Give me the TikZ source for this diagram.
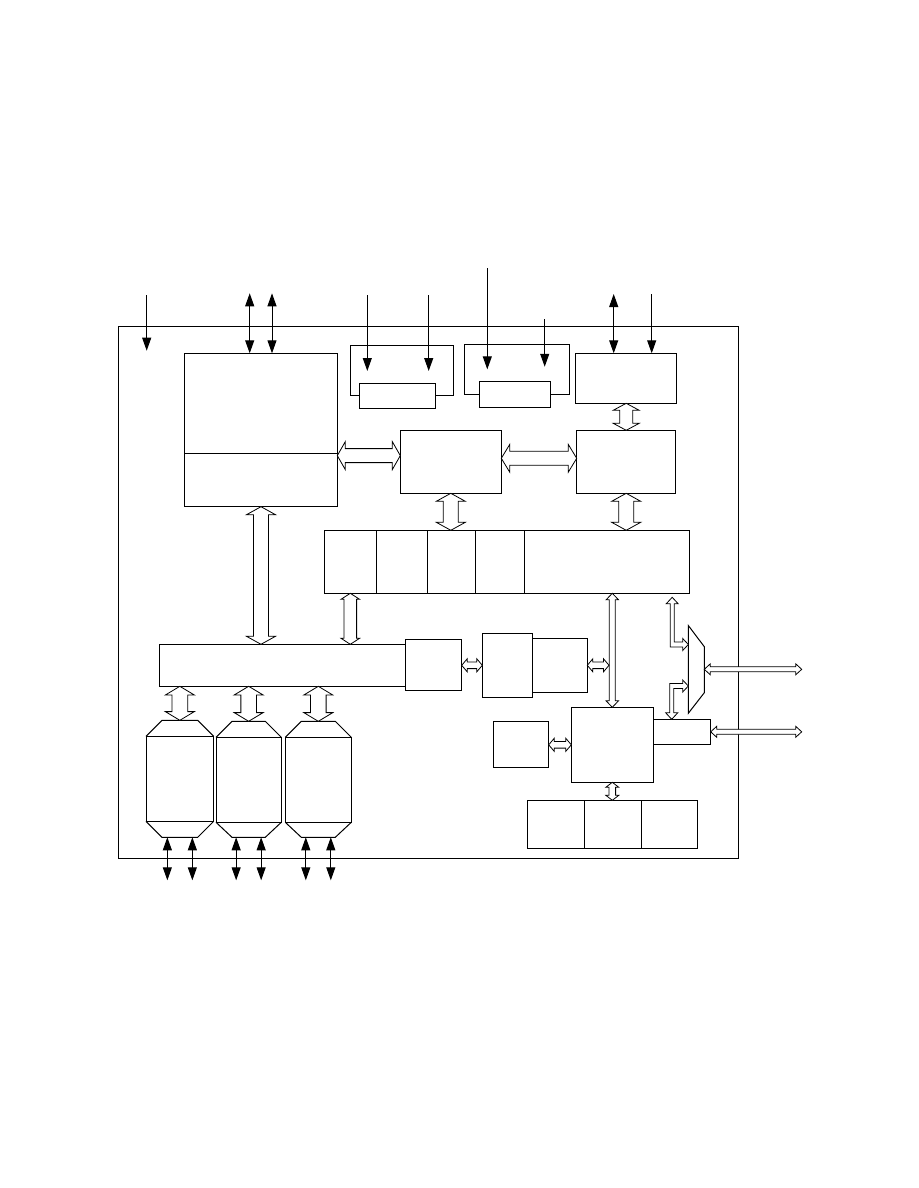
\documentclass[tikz,border=0pt]{standalone}
\usetikzlibrary{positioning,calc,arrows.meta}

\tikzset{
  box/.style={draw, rectangle, line width=1pt, inner sep=0pt, outer sep=0pt},
  sig/.style={line width=1pt, -{Triangle[length=13pt,width=9pt]}},
  sigboth/.style={line width=1pt, {Triangle[length=13pt,width=9pt]}-{Triangle[length=13pt,width=9pt]}},
  bus/.style={draw, fill=white, line width=0.8pt},
}

%% hollow bus arrows: #1 start, #2 end, #3 half shaft, #4 half head, #5 head length
\newcommand{\hbus}[5]{\draw[bus] (#1) -- ($(#1)+(#5,-#4)$) -- ($(#1)+(#5,-#3)$) -- ($(#2)+(-#5,-#3)$) -- ($(#2)+(-#5,-#4)$) -- (#2) -- ($(#2)+(-#5,#4)$) -- ($(#2)+(-#5,#3)$) -- ($(#1)+(#5,#3)$) -- ($(#1)+(#5,#4)$) -- cycle;}
\newcommand{\vbus}[5]{\draw[bus] (#1) -- ($(#1)+(-#4,#5)$) -- ($(#1)+(-#3,#5)$) -- ($(#2)+(-#3,-#5)$) -- ($(#2)+(-#4,-#5)$) -- (#2) -- ($(#2)+(#4,-#5)$) -- ($(#2)+(#3,-#5)$) -- ($(#1)+(#3,#5)$) -- ($(#1)+(#4,#5)$) -- cycle;}

\begin{document}
\begin{tikzpicture}[x=1pt,y=-1pt]
	\useasboundingbox (0,0) rectangle (918,1188);
	%% chip
	\node[box, minimum width=620pt, minimum height=531.7pt] (chip) at (428.3,592.15) {};
	%% core block
	\node[box, minimum width=152.6pt, minimum height=100pt] (blk) at (261,403.3) {};
	\node[box, minimum width=152.6pt, minimum height=53.4pt, below=0pt of blk] (blkb) {};
	%% pads
	\node[box, minimum width=76.4pt, minimum height=25pt] (p1) at (397.5,395.8) {};
	\node[box, minimum width=71.4pt, minimum height=25.7pt] (p2) at (515,394.2) {};
	\draw[line width=1pt] (p1.west) -| (350.3,345.3) -| ($(p1.east)+(17.6,0)$) -- (p1.east);
	\draw[line width=1pt] (p2.west) -| (464.3,344.3) -| ($(p2.east)+(18.6,0)$) -- (p2.east);
	%% middle
	\node[box, minimum width=101pt, minimum height=63pt] (m1) at (450.8,461.8) {};
	\node[box, minimum width=99pt, minimum height=63pt, right=75.4pt of m1] (m2) {};
	\node[box, minimum width=101pt, minimum height=50pt, above=27pt of m2] (tr) {};
	%% register row
	\node[box, minimum width=52pt, minimum height=63pt] (r1) at (350.3,561.8) {};
	\node[box, minimum width=51pt, minimum height=63pt, right=0pt of r1] (r2) {};
	\node[box, minimum width=48pt, minimum height=63pt, right=0pt of r2] (r3) {};
	\node[box, minimum width=49pt, minimum height=63pt, right=0pt of r3] (r4) {};
	\node[box, minimum width=165pt, minimum height=63pt, right=0pt of r4] (r5) {};
	%% bus
	\node[box, minimum width=246pt, minimum height=42pt] (bus) at (282.3,665.3) {};
	\node[box, minimum width=56.4pt, minimum height=51pt, right=0pt of bus] (bx) {};
	\node[box, minimum width=50pt, minimum height=64pt, right=20.6pt of bx] (bA) {};
	\node[box, minimum width=55pt, minimum height=54pt, right=0pt of bA] (bB) {};
	%% memories
	\node[box, minimum width=67.7pt, minimum height=85pt] (t1) at (179.85,778.8) {};
	\node[box, minimum width=65.3pt, minimum height=85pt] (t2) at (248.65,779.8) {};
	\node[box, minimum width=66pt, minimum height=85pt] (t3) at (318.3,779.8) {};
	\draw[line width=1pt] (t1.north west) -- ++(16,-16) -- ($(t1.north east)+(-16,-16)$) -- (t1.north east);
	\draw[line width=1pt] (t1.south west) -- ++(16,16) -- ($(t1.south east)+(-16,16)$) -- (t1.south east);
	\draw[line width=1pt] (t2.north west) -- ++(16,-16) -- ($(t2.north east)+(-16,-16)$) -- (t2.north east);
	\draw[line width=1pt] (t2.south west) -- ++(16,15) -- ($(t2.south east)+(-16,15)$) -- (t2.south east);
	\draw[line width=1pt] (t3.north west) -- ++(16,-16) -- ($(t3.north east)+(-16,-16)$) -- (t3.north east);
	\draw[line width=1pt] (t3.south west) -- ++(16,15) -- ($(t3.south east)+(-16,15)$) -- (t3.south east);
	\coordinate (t1t) at ($(t1.north)+(0,-16)$);
	\coordinate (t2t) at ($(t2.north)+(0,-16)$);
	\coordinate (t3t) at ($(t3.north)+(0,-16)$);
	%% controller
	\node[box, minimum width=82pt, minimum height=75pt] (ctrl) at (612.3,744.8) {};
	\node[box, minimum width=57.4pt, minimum height=25pt, anchor=north west] (bC) at ($(ctrl.north east)+(0,12)$) {};
	\node[box, minimum width=55.4pt, minimum height=46pt, left=22.6pt of ctrl] (sb) {};
	\node[box, minimum width=56.6pt, minimum height=47.7pt] (q1) at (556,824.15) {};
	\node[box, minimum width=57pt, minimum height=47.7pt, right=0pt of q1] (q2) {};
	\node[box, minimum width=56.4pt, minimum height=47.7pt, right=0pt of q2] (q3) {};
	%% mux
	\draw[line width=1pt] (688.3,625.5) -- (704.3,646.7) -- (704.3,692.7) -- (688.3,713.3) -- cycle;
	\coordinate (mo) at (704.3,669.3);
	\coordinate (la) at (672.2,597.3);
	\coordinate (lb) at (688.3,686);
	%% levels
	\coordinate (c1) at (0,455.6);
	\coordinate (c2) at (0,458.3);
	\coordinate (c3) at (609,0);
	\coordinate (c4) at (801.7,0);

	%% wide buses
	\hbus{blk.east |- c1}{m1.west |- c1}{7}{14}{8}
	\hbus{m1.east |- c2}{m2.west |- c2}{7}{14}{8.5}
	\vbus{tr.south}{tr.south |- m2.north}{6.5}{13}{7}
	\vbus{m1.south}{m1.south |- r1.north}{7.5}{14.5}{8}
	\vbus{m2.south}{m2.south |- r1.north}{7.5}{14.5}{8}
	\vbus{blkb.south}{blkb.south |- bus.north}{7.5}{14.5}{8}
	\vbus{r1.south}{r1.south |- bus.north}{6.3}{9.3}{6}
	\vbus{t1.north |- bus.south}{t1t}{7.8}{14.5}{8.7}
	\vbus{t2.north |- bus.south}{t2t}{7.8}{14.5}{8.7}
	\vbus{t3.north |- bus.south}{t3t}{7.8}{14.5}{8.7}
	%% narrow buses
	\vbus{ctrl.north |- r5.south}{ctrl.north}{3}{6.2}{6.5}
	\hbus{bx.east}{bA.west |- bx.east}{3.3}{6.5}{5.5}
	\hbus{bB.east}{bB.east -| c3}{3.3}{6.5}{5.5}
	\hbus{sb.east}{ctrl.west |- sb.east}{3.3}{6.5}{5.5}
	\vbus{ctrl.south}{ctrl.south |- q2.north}{3.3}{6.5}{5}
	\hbus{mo}{mo -| c4}{2.5}{5.5}{6}
	\hbus{bC.east}{bC.east -| c4}{2.5}{5.5}{6}
	\draw[bus] (la) -- ++(6,6.5) -- ++(-4,0) -- ++(0,38.2) -- ++(8.5,0) -- ++(0,-3.5) -- ++(5.6,6) -- ++(-5.6,6) -- ++(0,-3.5) -- ++(-12.5,0) -- ++(0,-43.2) -- ++(-4,0) -- cycle;
	\draw[bus] (lb) -- ++(-5.6,-6) -- ++(0,3.5) -- ++(-13,0) -- ++(0,29.3) -- ++(-4,0) -- ++(6,6.5) -- ++(6,-6.5) -- ++(-4,0) -- ++(0,-24.3) -- ++(9,0) -- ++(0,3.5) -- cycle;

	%% pins
	\coordinate (in1) at (146.7,295);
	\draw[sig] (in1) -- ++(0,55.7);
	\draw[sigboth] ([xshift=-11.3pt]blk.north) -- ++(0,-60);
	\draw[sigboth] ([xshift=11pt]blk.north) -- ++(0,-60);
	\draw[sig] ([xshift=-30.2pt,yshift=88.3pt]p1.north) -- ([xshift=-30.2pt,yshift=12.3pt]p1.north);
	\draw[sig] ([xshift=31.2pt,yshift=88.3pt]p1.north) -- ([xshift=31.2pt,yshift=12.3pt]p1.north);
	\draw[sig] ([xshift=-27.7pt,yshift=113pt]p2.north) -- ([xshift=-27.7pt,yshift=12pt]p2.north);
	\draw[sig] ([xshift=29.7pt,yshift=62pt]p2.north) -- ([xshift=29.7pt,yshift=14.6pt]p2.north);
	\draw[sigboth] ([xshift=-12.5pt]tr.north) -- ++(0,-59.3);
	\draw[sig] ([xshift=25.5pt,yshift=59.3pt]tr.north) -- ([xshift=25.5pt]tr.north);
	\draw[sigboth] ([xshift=-12.5pt,yshift=-16pt]t1.south) -- ++(0,43);
	\draw[sigboth] ([xshift=12.5pt,yshift=-16pt]t1.south) -- ++(0,43);
	\draw[sigboth] ([xshift=-12.5pt,yshift=-15pt]t2.south) -- ++(0,43);
	\draw[sigboth] ([xshift=12.5pt,yshift=-15pt]t2.south) -- ++(0,43);
	\draw[sigboth] ([xshift=-12.5pt,yshift=-15pt]t3.south) -- ++(0,43);
	\draw[sigboth] ([xshift=12.5pt,yshift=-15pt]t3.south) -- ++(0,43);
\end{tikzpicture}
\end{document}
